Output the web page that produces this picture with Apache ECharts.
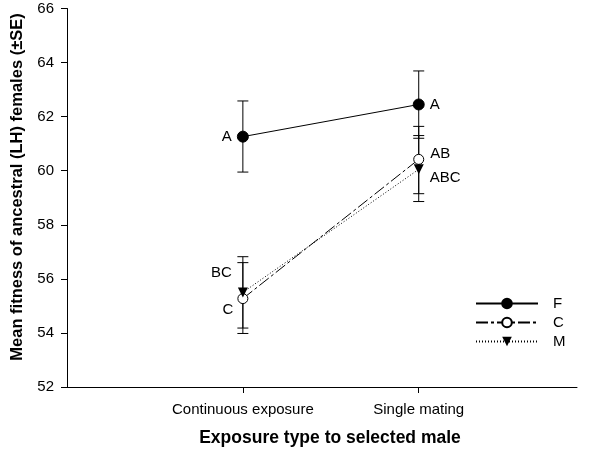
<!DOCTYPE html>
<html><head><meta charset="utf-8">
<script src="https://cdn.jsdelivr.net/npm/echarts@6/dist/echarts.min.js"></script>
<style>html,body{margin:0;padding:0;background:#fff}#c{width:600px;height:454px}</style>
</head><body><div id="c"></div>
<script>
const categories = ['Continuous exposure', 'Single mating'];
const xPos = [1, 2];
const yTicks = [52, 54, 56, 58, 60, 62, 64, 66];

const fMean = [61.26, 62.45];
const fLow  = [59.95, 61.20];
const fHigh = [62.58, 63.69];
const fLetters = ['A', 'A'];

const cMean = [55.27, 60.42];
const cLow  = [53.98, 59.15];
const cHigh = [56.60, 61.64];
const cLetters = ['C', 'AB'];

const mMean = [55.50, 60.05];
const mLow  = [54.18, 58.86];
const mHigh = [56.82, 61.30];
const mLetters = ['BC', 'ABC'];

const FONT = 'Liberation Sans, Arial, sans-serif';

function pts(mean, letters, labelCfg) {
  return xPos.map((x, i) => ({
    value: [x, mean[i]],
    label: Object.assign({ show: true, formatter: letters[i], color: '#000', fontSize: 15, fontFamily: FONT }, labelCfg[i])
  }));
}
function errData(low, high) { return xPos.map((x, i) => [x, low[i], high[i]]); }

function errSeries(low, high) {
  return {
    type: 'custom', silent: true, z: 1,
    data: errData(low, high),
    encode: { x: 0, y: [1, 2] },
    renderItem: function (params, api) {
      const x = api.value(0);
      const lo = api.coord([x, api.value(1)]);
      const hi = api.coord([x, api.value(2)]);
      const hw = 5.5;
      const st = { stroke: '#000', lineWidth: 1 };
      return { type: 'group', children: [
        { type: 'line', shape: { x1: lo[0], y1: lo[1], x2: hi[0], y2: hi[1] }, style: st },
        { type: 'line', shape: { x1: lo[0] - hw, y1: lo[1], x2: lo[0] + hw, y2: lo[1] }, style: st },
        { type: 'line', shape: { x1: hi[0] - hw, y1: hi[1], x2: hi[0] + hw, y2: hi[1] }, style: st }
      ]};
    }
  };
}

const chart = echarts.init(document.getElementById('c'), null, { renderer: 'canvas' });
chart.setOption({
  animation: false,
  backgroundColor: '#fff',
  grid: { left: 67, right: 23, top: 8.5, bottom: 67 },
  xAxis: {
    type: 'value', min: 0, max: 2.9,
    axisLine: { show: true, lineStyle: { color: '#000', width: 1 } },
    axisTick: { show: true, customValues: xPos, length: 6, lineStyle: { color: '#000' } },
    axisLabel: { show: true, customValues: xPos, margin: 15, color: '#000', fontSize: 15, fontFamily: FONT,
      formatter: v => categories[xPos.indexOf(v)] || '' },
    splitLine: { show: false }
  },
  yAxis: {
    type: 'value', min: 52, max: 66, interval: 2,
    axisLine: { show: true, lineStyle: { color: '#000', width: 1 } },
    axisTick: { show: true, length: 6, lineStyle: { color: '#000' } },
    axisLabel: { margin: 13, color: '#000', fontSize: 15, fontFamily: FONT },
    splitLine: { show: false }
  },
  legend: {
    orient: 'vertical', left: 470, top: 291,
    itemWidth: 62, itemHeight: 12, itemGap: 4,
    textStyle: { color: '#000', fontSize: 15, fontFamily: FONT, padding: [0, 0, 0, 10] },
    data: ['F', 'C', 'M']
  },
  graphic: [
    { type: 'text', x: 17, y: 187, rotation: Math.PI / 2,
      style: { text: 'Mean fitness of ancestral (LH) females (±SE)', font: 'bold 16.5px ' + FONT, fill: '#000', align: 'center', verticalAlign: 'middle' } },
    { type: 'text', x: 330, y: 438,
      style: { text: 'Exposure type to selected male', font: 'bold 17.5px ' + FONT, fill: '#000', align: 'center', verticalAlign: 'middle' } }
  ],
  series: [
    errSeries(fLow, fHigh), errSeries(cLow, cHigh), errSeries(mLow, mHigh),
    { name: 'F', type: 'line', z: 3, symbol: 'circle', symbolSize: 11,
      itemStyle: { color: '#000', borderColor: '#000', borderWidth: 1 },
      lineStyle: { color: '#000', width: 1, type: 'solid' },
      data: pts(fMean, fLetters, [{ position: 'left', distance: 5 }, { position: 'right', distance: 5 }]) },
    { name: 'C', type: 'line', z: 4, symbol: 'circle', symbolSize: 10, showAllSymbol: true,
      itemStyle: { color: '#fff', borderColor: '#000', borderWidth: 1 },
      lineStyle: { color: '#000', width: 1, type: [12, 3, 3, 3] },
      data: pts(cMean, cLetters, [{ position: 'left', distance: 4, offset: [0, 11] }, { position: 'right', distance: 6, offset: [0, -5] }]) },
    { name: 'M', type: 'line', z: 5, symbol: 'triangle', symbolRotate: 180, symbolSize: 10,
      itemStyle: { color: '#000', borderColor: '#000', borderWidth: 0 },
      lineStyle: { color: '#000', width: 1, type: [1, 2] },
      data: pts(mMean, mLetters, [{ position: 'left', distance: 6, offset: [0, -20] }, { position: 'right', distance: 6, offset: [0, 8] }]) }
  ]
});
</script></body></html>
